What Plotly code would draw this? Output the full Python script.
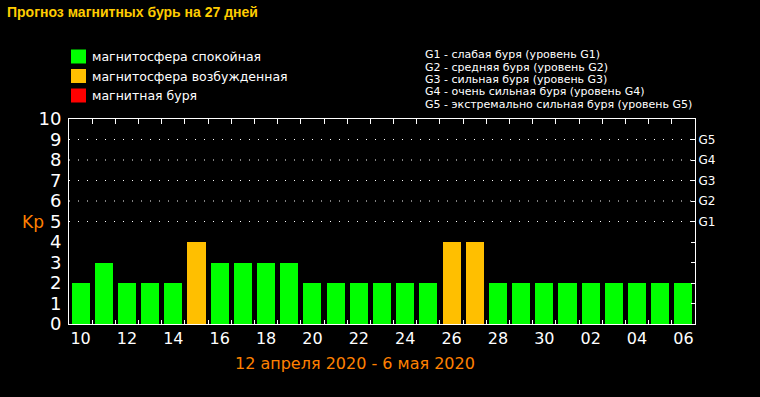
import plotly.graph_objects as go

# ---- data ----
days = ["10", "11", "12", "13", "14", "15", "16", "17", "18", "19", "20", "21", "22", "23",
        "24", "25", "26", "27", "28", "29", "30", "01", "02", "03", "04", "05", "06"]
kp = [2, 3, 2, 2, 2, 4, 3, 3, 3, 3, 2, 2, 2, 2, 2, 2, 4, 4, 2, 2, 2, 2, 2, 2, 2, 2, 2]
status = ["q", "q", "q", "q", "q", "a", "q", "q", "q", "q", "q", "q", "q", "q",
          "q", "q", "a", "a", "q", "q", "q", "q", "q", "q", "q", "q", "q"]
kp_ticks = list(range(0, 11))
g_levels = [5, 6, 7, 8, 9]
g_labels = ["G1", "G2", "G3", "G4", "G5"]
legend_labels = ["магнитосфера спокойная", "магнитосфера возбужденная", "магнитная буря"]
g_desc = ["G1 - слабая буря (уровень G1)",
          "G2 - средняя буря (уровень G2)",
          "G3 - сильная буря (уровень G3)",
          "G4 - очень сильная буря (уровень G4)",
          "G5 - экстремально сильная буря (уровень G5)"]
title = "Прогноз магнитных бурь на 27 дней"
subtitle = "12 апреля 2020 - 6 мая 2020"

# ---- style ----
GREEN, ORANGE, RED = "#00FF00", "#FFBF00", "#FF0000"
color_map = {"q": GREEN, "a": ORANGE, "s": RED}
legend_colors = [GREEN, ORANGE, RED]
W, H = 760, 397
L, R, T, B = 69, 695, 119, 324
FONT = "DejaVu Sans"


def px(x):
    return (x - L) / (R - L)


def py(y):
    return (B - y) / (B - T)


xpos = list(range(len(days)))

fig = go.Figure()
fig.add_trace(go.Bar(
    x=xpos, y=kp,
    marker=dict(color=[color_map[s] for s in status], line=dict(width=0)),
    width=0.78, showlegend=False, hoverinfo="x+y"))
fig.add_trace(go.Scatter(x=[xpos[0]], y=[0], yaxis="y2", mode="markers",
                         marker=dict(opacity=0), showlegend=False, hoverinfo="skip"))
fig.add_trace(go.Scatter(x=[xpos[0]], y=[0], xaxis="x2", mode="markers",
                         marker=dict(opacity=0), showlegend=False, hoverinfo="skip"))

label_pos = [i for i in xpos if i % 2 == 0]
fig.update_layout(
    width=W, height=H,
    paper_bgcolor="black", plot_bgcolor="black",
    margin=dict(l=L, r=W - R, t=T, b=H - B),
    bargap=0,
    xaxis=dict(range=[-0.5, len(days) - 0.5], showgrid=False, zeroline=False,
               showline=True, linecolor="white", linewidth=1, mirror=True,
               tickvals=label_pos, ticktext=[days[i] for i in label_pos],
               ticks="", tickfont=dict(family=FONT, size=16, color="white"),
               minor=dict(tickvals=[i + 0.5 for i in xpos[:-1]], ticks="inside",
                          ticklen=4, tickcolor="white", showgrid=False),
               fixedrange=True),
    xaxis2=dict(range=[-0.5, len(days) - 0.5], overlaying="x", side="top",
                anchor="y", showgrid=False, zeroline=False, showline=False,
                tickvals=[i + 0.5 for i in xpos[:-1]], ticks="inside", ticklen=5,
                tickcolor="white", showticklabels=False),
    yaxis=dict(range=[0, 10], showgrid=False, zeroline=False, showline=True,
               linecolor="white", linewidth=1, tickvals=kp_ticks, ticks="",
               tickfont=dict(family=FONT, size=18, color="white"), ticklabelstandoff=3),
    yaxis2=dict(range=[0, 10], overlaying="y", side="right", showgrid=False,
                zeroline=False, showline=True, linecolor="white", linewidth=1,
                tickvals=kp_ticks,
                ticktext=[g_labels[g_levels.index(v)] if v in g_levels else "" for v in kp_ticks],
                ticks="inside", ticklen=4, tickcolor="white",
                tickfont=dict(family=FONT, size=12, color="white")),
    showlegend=False,
)

for g in g_levels:
    fig.add_shape(type="line", xref="paper", yref="y", x0=0, x1=1, y0=g, y1=g,
                  line=dict(color="white", width=1, dash="1px,8px"))

ann = []
ann.append(dict(text="<b>" + title + "</b>", x=px(5), y=py(12), xanchor="left",
                yanchor="middle", font=dict(family="Liberation Sans", size=14, color="#FFCC00")))
rows = [56.5, 76, 95.5]
for lab, col, yc in zip(legend_labels, legend_colors, rows):
    fig.add_shape(type="rect", xref="paper", yref="paper", x0=px(71), x1=px(86),
                  y0=py(yc + 7), y1=py(yc - 7), fillcolor=col, line=dict(width=0))
    ann.append(dict(text=lab, x=px(90), y=py(yc), xanchor="left", yanchor="middle",
                    font=dict(family=FONT, size=12.5, color="white")))
for i, d in enumerate(g_desc):
    ann.append(dict(text=d, x=px(423), y=py(55 + 12.3 * i), xanchor="left", yanchor="middle",
                    font=dict(family=FONT, size=11, color="white")))
ann.append(dict(text="Kp", x=px(33), y=5, yref="y", xanchor="center", yanchor="middle",
                font=dict(family=FONT, size=17, color="#FF8000")))
ann.append(dict(text=subtitle, x=px(355), y=py(363), xanchor="center", yanchor="middle",
                font=dict(family=FONT, size=16, color="#FF8000")))
for a in ann:
    a.setdefault("xref", "paper")
    a.setdefault("yref", "paper")
    a["showarrow"] = False
fig.update_layout(annotations=ann)

fig.write_html("out.html", config={"displayModeBar": False},
               post_script="document.body.style.margin='0';document.body.style.background='black';")
